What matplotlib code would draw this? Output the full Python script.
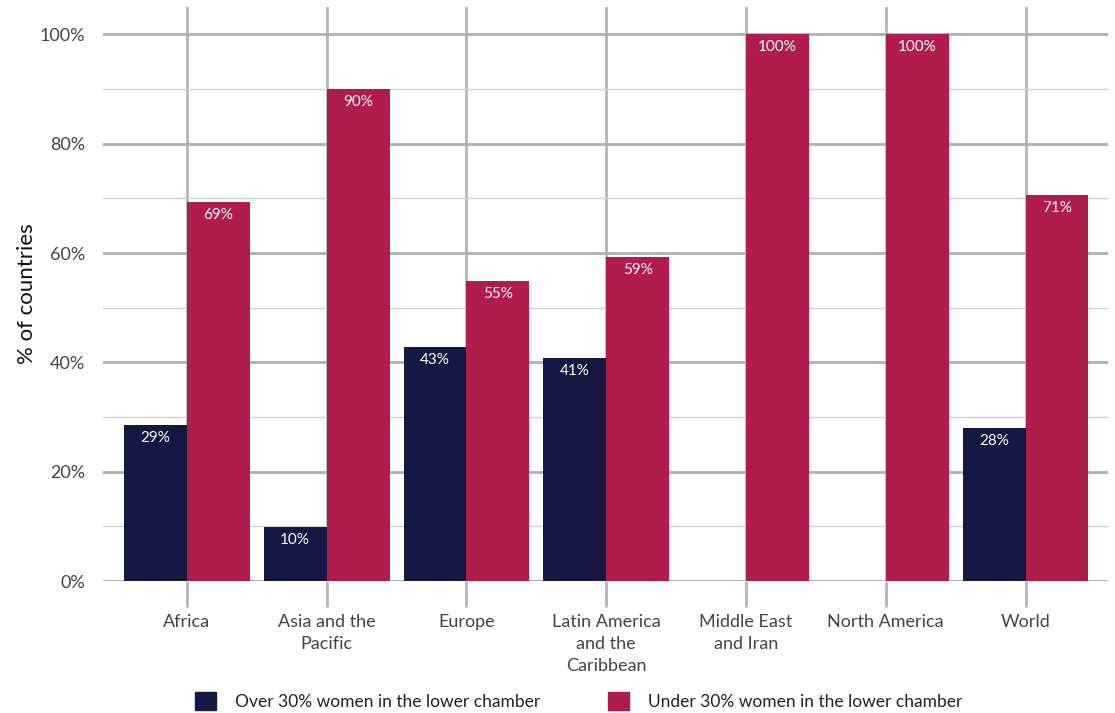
import numpy as np
import matplotlib.pyplot as plt
from matplotlib.patches import Patch

regions = ["Africa", "Asia and the\nPacific", "Europe", "Latin America\nand the\nCaribbean",
           "Middle East\nand Iran", "North America", "World"]
over_30 = [28.6, 9.9, 42.9, 40.8, 0, 0, 28.0]
under_30 = [69.4, 90.1, 54.8, 59.2, 100, 100, 70.7]
series_names = ["Over 30% women in the lower chamber", "Under 30% women in the lower chamber"]
navy = "#171744"
crimson = "#b01c4c"

plt.rcParams['font.family'] = ['Lato', 'DejaVu Sans']

fig = plt.figure(figsize=(11.15, 7.13), dpi=100)
ax = fig.add_axes([0.0924, 0.1851, 0.9013, 0.805])

x = np.arange(len(regions))
w = 0.45
b1 = ax.bar(x - w / 2, over_30, w, color=navy, zorder=3)
b2 = ax.bar(x + w / 2, under_30, w, color=crimson, zorder=3)

for bars, vals in ((b1, over_30), (b2, under_30)):
    for rect, v in zip(bars, vals):
        if v > 0:
            ax.text(rect.get_x() + rect.get_width() / 2, v - 1.1, f"{round(v)}%",
                    ha="center", va="top", color="white", fontsize=11, zorder=4)

ax.set_xlim(-0.6, len(regions) - 0.41)
ax.set_ylim(0, 105)
ax.set_yticks(range(0, 101, 20))
ax.set_yticks(range(10, 100, 20), minor=True)
ax.set_yticklabels([f"{t}%" for t in range(0, 101, 20)])
ax.set_xticks(x)
ax.set_xticklabels(regions, linespacing=1.45)

ax.grid(axis="y", which="major", color="#aeb1b1", linewidth=2, zorder=0)
ax.grid(axis="y", which="minor", color="#cdd0d0", linewidth=1, zorder=0)
ax.grid(axis="x", which="major", color="#b3b6b6", linewidth=2, zorder=0)
for s in ax.spines.values():
    s.set_visible(False)

ax.tick_params(axis="y", which="both", length=0, pad=13, labelsize=13, labelcolor="#444444")
ax.tick_params(axis="x", length=19, width=2, color="#b3b6b6", pad=5, labelsize=13,
               labelcolor="#444444")
ax.set_ylabel("% of countries", fontsize=16, color="#111111")
ax.yaxis.set_label_coords(-0.066, 0.5)

handles = [Patch(color=navy), Patch(color=crimson)]
fig.legend(handles, series_names, loc="lower center", bbox_to_anchor=(0.519, -0.018), ncol=2,
           frameon=False, fontsize=12.5, handlelength=1.2, handleheight=1.2,
           columnspacing=3.9, handletextpad=1.1, labelcolor="#222222")

fig.savefig("out.png", dpi=100)
